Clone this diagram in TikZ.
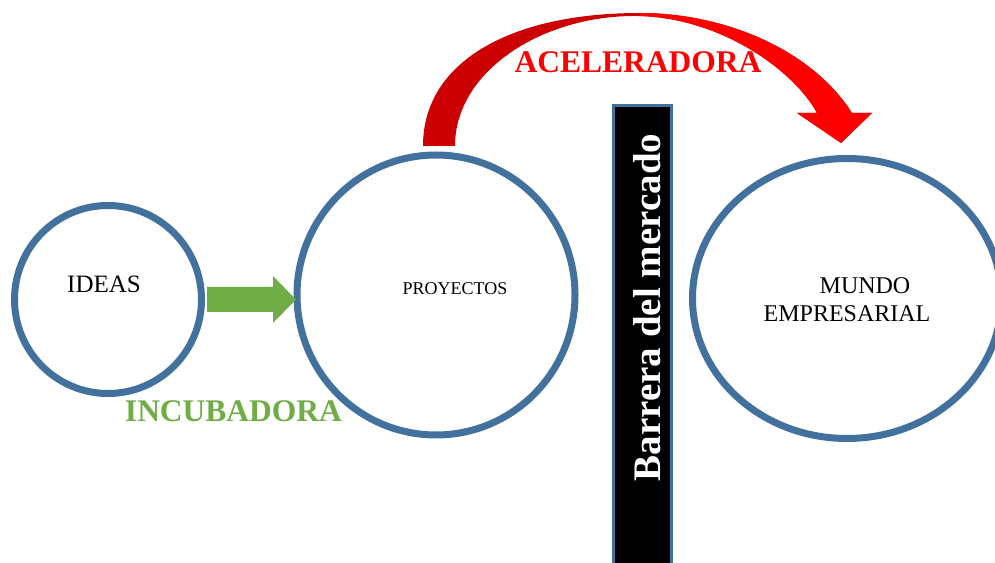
\documentclass[tikz,border=0pt]{standalone}
\usepackage{fontspec}
\setmainfont{Liberation Serif}
\usetikzlibrary{shapes.geometric}
\definecolor{ringblue}{RGB}{65,113,156}
\definecolor{incgreen}{RGB}{112,173,71}
\definecolor{acceldark}{RGB}{204,0,0}
\definecolor{accelred}{RGB}{255,0,0}
\tikzset{
  ring/.style={ellipse, draw=ringblue, line width=7pt, inner sep=0pt, fill=white},
  plainlabel/.style={font=\fontsize{#1}{#1}\selectfont, inner sep=0pt, text=black},
  biglabel/.style={font=\fontsize{31.5}{32}\selectfont\bfseries, inner sep=0pt},
}
\begin{document}
\begin{tikzpicture}[x=1pt,y=1pt]
\clip (0,0) rectangle (995,562);
\useasboundingbox (0,0) rectangle (995,562);

% the three stages
\node[ring, minimum width=187, minimum height=188] (ideas) at (108,262.5) {};
\node[ring, minimum width=278, minimum height=280] (proyectos) at (436,267) {};
\node[ring, minimum width=309, minimum height=280] (mundo) at (847,263.5) {};

\node[plainlabel=25, anchor=base] (ideastxt) at (104,269) {IDEAS};
\node[plainlabel=18, anchor=base] (proytxt) at (455,267) {PROYECTOS};
\node[plainlabel=24, anchor=base] (mundotxt1) at (865,268) {MUNDO};
\node[plainlabel=24, anchor=base] (mundotxt2) at (847,240) {EMPRESARIAL};

% market barrier
\node[draw=ringblue, line width=2.5pt, fill=black, minimum width=58, minimum height=480,
      inner sep=0pt, anchor=north] (barrier) at (642.5,457.5) {};
\node[font=\fontsize{39}{40}\selectfont\bfseries, text=white, rotate=90, anchor=base,
      inner sep=0pt] (barriertxt) at (660,254.5) {Barrera del mercado};

% incubator arrow: ideas -> projects
\coordinate (gA) at ([xshift=2pt]ideas.east);
\coordinate (gB) at ([xshift=2.5pt]gA -| proyectos.west);
\fill[incgreen] ([yshift=12.5pt]gA) -- ([xshift=-23pt,yshift=12.5pt]gB)
  -- ([xshift=-23pt,yshift=23.5pt]gB) -- (gB)
  -- ([xshift=-23pt,yshift=-23.5pt]gB) -- ([xshift=-23pt,yshift=-12.5pt]gB)
  -- ([yshift=-12.5pt]gA) -- cycle;
\node[biglabel, text=incgreen, anchor=base] (inctxt) at (233.5,140) {INCUBADORA};

% accelerator arrow: projects -> business world, over the barrier
\coordinate (rA) at ([xshift=-13pt,yshift=5.5pt]proyectos.north);
\coordinate (rB) at ([xshift=-6pt,yshift=12pt]mundo.north);
\def\accelpath{(rA) .. controls (423,500) and (510,549) .. (640,549)
  .. controls (725,549) and (812,512) .. (852,449)
  -- (872,449) -- (rB) -- (797,449) -- (817,449)
  .. controls (795,490) and (720,547) .. (632,546)
  .. controls (540,545) and (455,490) .. ([xshift=32pt]rA) -- cycle}
\fill[acceldark] \accelpath;
\begin{scope}
  \clip (640,400) rectangle (995,562);
  \fill[accelred] \accelpath;
\end{scope}
\node[biglabel, text=accelred, anchor=base] (acctxt) at (638,489) {ACELERADORA};
\end{tikzpicture}
\end{document}
